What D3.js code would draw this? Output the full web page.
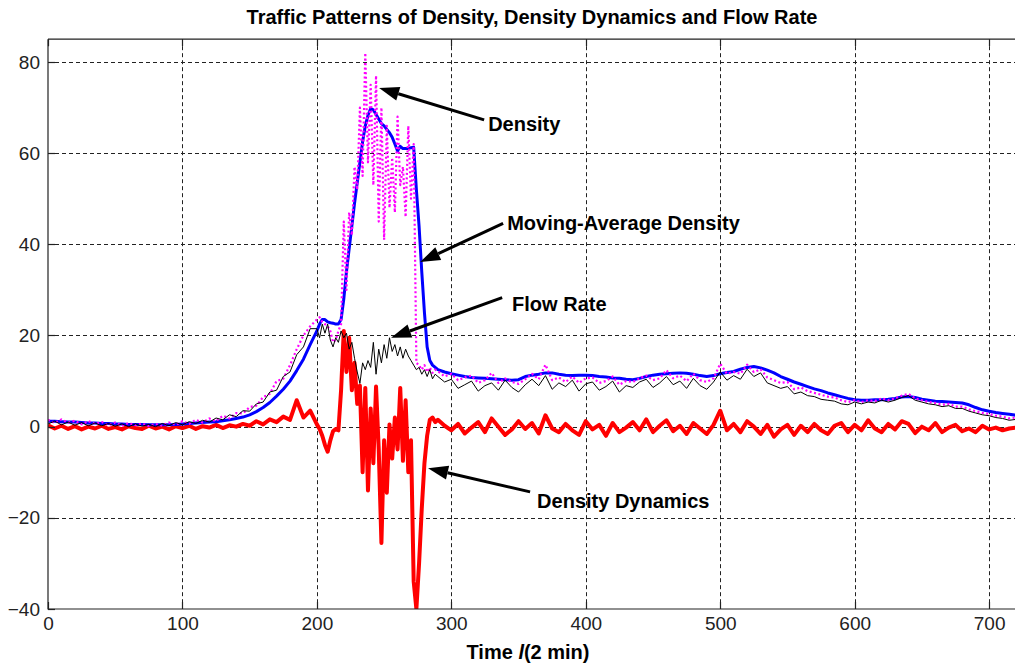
<!DOCTYPE html>
<html>
<head>
<meta charset="utf-8">
<script src="https://cdn.jsdelivr.net/npm/d3@7"></script>
<style>
  body { margin: 0; background: #fff; }
  svg { display: block; font-family: "Liberation Sans", Arial, sans-serif; }
</style>
</head>
<body>
<svg></svg>
<script>
// sample times (unit = 2 min); finer sampling through the congestion peak
const timeSteps = [...d3.range(0, 200, 5), ...d3.range(200, 290, 2), ...d3.range(290, 721, 5)];

const movingAvgDensity = [
  // 0 .. 195 step 5
  1.2, 1.2, 1.1, 1.0, 1.0, 0.9, 0.8, 0.8, 0.7, 0.7, 0.6, 0.6, 0.5, 0.5, 0.5, 0.4, 0.4, 0.4, 0.4, 0.5,
  0.6, 0.7, 0.8, 0.9, 1.0, 1.1, 1.3, 1.5, 1.8, 2.1, 2.6, 3.3, 4.2, 5.3, 6.7, 8.2, 10.0, 12.3, 14.8, 18.0,
  // 200 .. 288 step 2
  21.0, 22.5, 23.5, 23.5, 23.0, 22.8, 22.7, 22.5, 22.5, 23.5, 28.0, 34.0, 39.0, 44.0, 49.0, 53.5, 58.0, 62.5, 66.0, 68.3,
  69.8, 69.5, 68.5, 67.5, 66.5, 66.0, 65.2, 64.5, 63.5, 62.0, 60.5, 61.5, 61.0, 61.0, 61.0, 61.2, 61.3, 52.0, 44.0, 34.0,
  25.0, 17.5, 14.5, 13.5, 13.0,
  // 290 .. 720 step 5
  12.5, 12.0, 11.6, 11.3, 11.0, 10.8, 10.7, 10.6, 10.5, 10.4, 10.3, 10.2, 10.3, 11.0, 11.3, 11.5, 11.8, 11.8, 11.5, 11.3,
  11.2, 11.3, 11.3, 11.2, 11.0, 10.9, 10.7, 10.6, 10.4, 10.3, 10.6, 11.0, 11.3, 11.5, 11.6, 11.7, 11.8, 11.7, 11.5, 11.2,
  11.0, 11.2, 11.6, 11.9, 12.1, 12.6, 13.0, 13.2, 12.9, 12.4, 11.8, 11.0, 10.4, 9.8, 9.3, 8.8, 8.3, 7.9, 7.4, 7.0,
  6.6, 6.2, 5.9, 5.8, 5.8, 5.9, 5.9, 6.0, 6.2, 6.5, 6.6, 6.4, 6.0, 5.8, 5.6, 5.5, 5.4, 5.3, 5.2, 4.8,
  4.2, 3.7, 3.4, 3.1, 2.9, 2.7, 2.5
];

const density = [
  1.5, 0.8, 1.6, 0.9, 1.3, 0.5, 1.2, 0.6, 1.0, 0.3, 0.9, 0.2, 0.8, 0.3, 0.7, 0.1, 0.6, 0.2, 0.9, 0.4,
  1.2, 0.6, 1.5, 0.9, 1.8, 1.2, 2.4, 1.8, 3.0, 2.9, 4.3, 4.6, 6.5, 7.2, 10.0, 10.5, 13.5, 17.0, 20.0, 22.0,
  23.5, 24.0, 23.0, 22.5, 22.0, 21.0, 18.5, 19.0, 21.0, 22.5, 45.0, 30.0, 47.0, 42.0, 57.0, 52.0, 70.0, 55.0, 82.0, 58.0,
  75.0, 53.0, 77.0, 45.0, 70.0, 41.0, 66.0, 48.0, 59.0, 47.0, 68.0, 53.0, 57.0, 46.0, 66.0, 50.0, 62.0, 14.0, 13.5, 12.5,
  13.5, 12.0, 13.0, 11.8, 12.5,
  12.2, 11.0, 11.6, 10.2, 10.8, 11.2, 9.6, 10.2, 11.8, 9.6, 10.6, 9.8, 9.4, 10.4, 11.6, 10.4, 13.6, 10.2, 10.8, 9.8,
  11.0, 9.6, 10.6, 10.8, 9.6, 10.0, 11.0, 9.2, 10.0, 9.8, 10.6, 11.2, 10.2, 10.6, 12.4, 10.6, 11.2, 10.0, 11.6, 10.2,
  9.8, 10.6, 13.8, 11.6, 12.0, 11.6, 13.6, 12.0, 12.6, 10.8, 10.2, 9.6, 9.8, 8.2, 8.6, 7.8, 7.4, 7.0, 6.6, 6.4,
  5.8, 5.4, 5.8, 5.4, 5.8, 5.6, 6.2, 5.8, 6.2, 6.8, 7.2, 6.2, 5.8, 5.4, 5.2, 4.8, 5.0, 4.4, 4.4, 3.8,
  3.4, 3.0, 2.8, 2.4, 2.2, 1.8, 2.0
];

const flowRate = [
  0.6, 1.2, 0.4, 1.0, 0.3, 0.9, 0.2, 0.8, 0.2, 0.7, 0.1, 0.6, 0.0, 0.6, 0.1, 0.5, 0.0, 0.7, 0.2, 0.9,
  0.4, 1.1, 0.7, 1.4, 1.0, 1.9, 1.5, 2.6, 2.2, 3.5, 3.4, 5.0, 5.4, 7.6, 8.0, 11.0, 12.0, 15.8, 17.5, 21.5,
  21.5, 19.5, 22.5, 20.5, 22.5, 19.0, 17.5, 19.5, 18.5, 21.0, 19.5, 20.5, 17.0, 18.5, 15.0, 12.0, 9.5, 14.0, 12.5, 14.5,
  13.0, 18.5, 11.5, 17.0, 14.0, 18.0, 15.0, 19.5, 16.5, 18.0, 15.5, 17.5, 15.0, 17.0, 15.5, 14.5, 13.5, 12.5, 13.0, 11.5,
  12.5, 11.0, 12.5, 10.5, 11.5,
  11.0, 9.8, 10.4, 8.4, 9.2, 10.0, 7.8, 9.0, 9.6, 8.0, 10.2, 8.6, 7.6, 9.2, 10.4, 9.0, 11.2, 8.2, 9.6, 8.8,
  10.2, 7.8, 9.4, 9.8, 8.0, 8.8, 10.0, 7.6, 9.0, 8.6, 9.8, 10.4, 8.6, 9.6, 11.0, 9.2, 10.0, 8.4, 10.6, 9.0,
  8.2, 9.8, 12.0, 10.2, 11.2, 10.4, 12.6, 11.0, 11.8, 9.6, 9.0, 8.4, 8.8, 7.2, 7.6, 6.8, 6.6, 6.0, 5.8, 5.6,
  5.0, 4.8, 5.4, 5.0, 5.4, 5.2, 5.8, 5.4, 5.8, 6.4, 6.8, 5.8, 5.4, 5.0, 4.8, 4.4, 4.6, 4.0, 4.0, 3.4,
  3.0, 2.6, 2.4, 2.0, 1.8, 1.4, 1.6
];

const densityDynamics = [
  0.3, -0.4, 0.2, -0.5, 0.1, -0.6, 0.0, -0.4, 0.2, -0.5, -0.1, -0.6, 0.1, -0.3, -0.5, 0.2, -0.4, 0.0, -0.6, 0.1,
  -0.3, 0.2, -0.5, 0.1, -0.2, 0.4, -0.3, 0.3, 0.0, 0.6, 0.2, 1.2, 0.5, 1.6, 1.0, 2.2, 1.5, 5.8, 2.0, 3.5,
  0.5, -0.5, -2.0, -4.0, -5.5, -3.0, -1.0, -0.5, -0.8, 8.0, 21.0, 12.0, 19.5, 8.0, 14.0, 5.0, 9.0, -10.0, 8.5, -14.0,
  4.0, -8.0, 8.8, -5.0, -25.5, -3.0, -14.5, 0.5, -7.0, 2.0, -5.0, 8.5, -7.5, 5.8, -10.0, -3.0, -34.0, -40.0, -30.0, -18.0,
  -8.0, -2.0, 1.5, 2.0, 1.0,
  1.5, 0.2, -0.8, 0.6, -1.5, -0.2, 1.0, -1.2, 1.8, 0.0, -1.8, -0.6, 1.2, -0.5, 0.8, -1.5, 2.5, -0.4, -1.2, 0.6,
  -0.8, -1.8, 1.2, -0.6, 0.4, -2.0, 0.8, -1.2, -0.2, 1.0, -0.8, 1.6, -1.2, 0.2, 1.4, -1.0, 0.2, -1.6, 0.8, -0.4,
  -1.6, 0.4, 3.5, -0.8, 0.6, -1.2, 1.2, 0.0, -1.6, 0.4, -2.2, -0.6, 0.4, -1.8, 0.2, -1.2, 0.6, -0.8, -1.6, 0.2,
  0.8, -1.2, 0.4, -0.8, 1.4, -0.4, -1.2, 0.6, -0.6, 1.2, 0.6, -1.4, 0.0, -0.8, 0.8, -1.2, -0.2, 0.4, -1.0, -0.4,
  -1.2, 0.2, -0.6, -0.2, -0.8, -0.4, -0.2
];

const xTicks = [0, 100, 200, 300, 400, 500, 600, 700];
const yTicks = [-40, -20, 0, 20, 40, 60, 80];

// arrow annotations, tip/tail given in data units
const annotations = [
  { label: "Density", tip: [246.3, 74.3], tail: [324.4, 67.3], at: [327.4, 64.8] },
  { label: "Moving-Average Density", tip: [276.8, 36.1], tail: [338.5, 44.6], at: [341.5, 43.1] },
  { label: "Flow Rate", tip: [255.2, 19.5], tail: [337.8, 28.3], at: [345.2, 25.4] },
  { label: "Density Dynamics", tip: [282.7, -9.1], tail: [358.6, -14.3], at: [363.8, -17.8] }
];

const width = 1015, height = 670;
const svg = d3.select("svg").attr("width", width).attr("height", height);

const x = d3.scaleLinear().domain([0, 720]).range([48, 1016]);
const y = d3.scaleLinear().domain([-40, 85]).range([609, 39.2]);

svg.append("clipPath").attr("id", "plot-clip")
  .append("rect")
  .attr("x", x(0)).attr("y", y(85))
  .attr("width", x(720) - x(0)).attr("height", y(-40) - y(85));

// grid
const grid = svg.append("g").attr("stroke", "#222").attr("stroke-width", 1).attr("stroke-dasharray", "4,3");
grid.selectAll(".vg").data(xTicks.filter(d => d > 0)).enter().append("line")
  .attr("x1", d => Math.round(x(d)) + 0.5).attr("x2", d => Math.round(x(d)) + 0.5)
  .attr("y1", y(85)).attr("y2", y(-40));
grid.selectAll(".hg").data(yTicks.filter(d => d > -40)).enter().append("line")
  .attr("x1", x(0)).attr("x2", x(720))
  .attr("y1", d => Math.round(y(d)) + 0.5).attr("y2", d => Math.round(y(d)) + 0.5);

// series
const line = d3.line().x((d, i) => x(timeSteps[i])).y(d => y(d));
const series = svg.append("g").attr("clip-path", "url(#plot-clip)").attr("fill", "none")
  .attr("stroke-linejoin", "round");

series.append("path").datum(densityDynamics)
  .attr("d", line).attr("stroke", "#ff0000").attr("stroke-width", 4);
series.append("path").datum(movingAvgDensity)
  .attr("d", line).attr("stroke", "#0000ff").attr("stroke-width", 3);
series.append("path").datum(density)
  .attr("d", line).attr("stroke", "#ff00ff").attr("stroke-width", 2.2)
  .attr("stroke-dasharray", "2,2.5");
series.append("path").datum(flowRate)
  .attr("d", line).attr("stroke", "#000").attr("stroke-width", 1);

// axes box
const box = svg.append("g").attr("stroke", "#222").attr("stroke-width", 1.2).attr("fill", "none");
box.append("path")
  .attr("d", `M${x(0)},${y(85)}H${x(720)}M${x(0)},${y(85)}V${y(-40)}H${x(720)}`);
box.selectAll(".xt").data(xTicks).enter().append("path")
  .attr("d", d => `M${Math.round(x(d)) + 0.5},${y(-40)}v-7M${Math.round(x(d)) + 0.5},${y(85)}v7`);
box.selectAll(".yt").data(yTicks).enter().append("path")
  .attr("d", d => `M${x(0)},${Math.round(y(d)) + 0.5}h7`);

// tick labels
const yAxis = svg.append("g").attr("transform", `translate(${x(0)},0)`)
  .call(d3.axisLeft(y).tickValues(yTicks).tickSize(0).tickPadding(8));
const xAxis = svg.append("g").attr("transform", `translate(0,${y(-40)})`)
  .call(d3.axisBottom(x).tickValues(xTicks).tickSize(0).tickPadding(8));
[xAxis, yAxis].forEach(a => {
  a.select(".domain").remove();
  a.selectAll("text").attr("font-family", "Liberation Sans, Arial, sans-serif")
    .attr("font-size", 19).attr("fill", "#222");
});

// title and axis label
svg.append("text").attr("x", (x(0) + x(720)) / 2).attr("y", 24)
  .attr("text-anchor", "middle").attr("font-weight", "bold").attr("font-size", 20)
  .text("Traffic Patterns of Density, Density Dynamics and Flow Rate");

const xLabel = svg.append("text").attr("x", (x(0) + x(720)) / 2 - 4).attr("y", 659)
  .attr("text-anchor", "middle").attr("font-weight", "bold").attr("font-size", 20);
xLabel.append("tspan").text("Time ");
xLabel.append("tspan").attr("font-style", "italic").text("l");
xLabel.append("tspan").text("(2 min)");

// annotations
const ann = svg.append("g");
annotations.forEach(a => {
  const tx = x(a.tip[0]), ty = y(a.tip[1]);
  const sx = x(a.tail[0]), sy = y(a.tail[1]);
  const len = Math.hypot(sx - tx, sy - ty);
  const ux = (sx - tx) / len, uy = (sy - ty) / len;
  const headLen = 20, headHalf = 7;
  const bx = tx + ux * headLen, by = ty + uy * headLen;
  ann.append("line")
    .attr("x1", bx).attr("y1", by).attr("x2", sx).attr("y2", sy)
    .attr("stroke", "#000").attr("stroke-width", 3);
  ann.append("path")
    .attr("d", `M${tx},${ty}L${bx - uy * headHalf},${by + ux * headHalf}L${bx + uy * headHalf},${by - ux * headHalf}Z`)
    .attr("fill", "#000");
  ann.append("text")
    .attr("x", x(a.at[0])).attr("y", y(a.at[1]))
    .attr("font-weight", "bold").attr("font-size", 20)
    .text(a.label);
});
</script>
</body>
</html>
